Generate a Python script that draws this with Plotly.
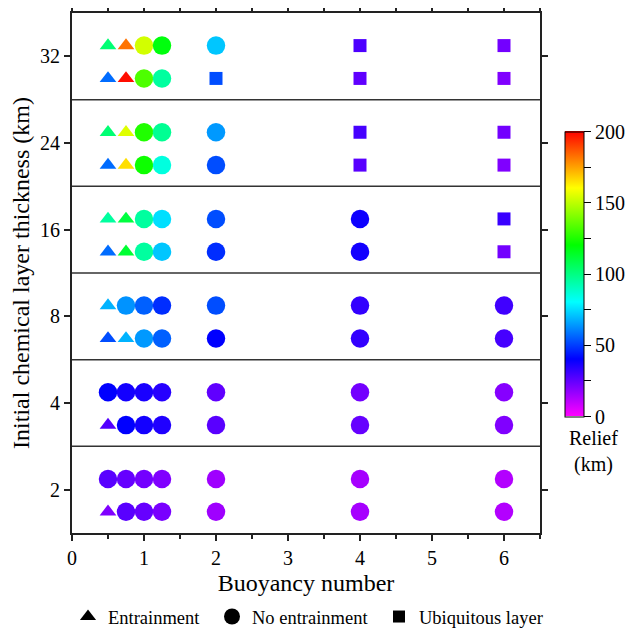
import plotly.graph_objects as go

# ---------------- data ----------------
buoyancy = [0.5, 0.75, 1.0, 1.25, 2, 4, 6]
thickness_labels = ["2", "4", "8", "16", "24", "32"]

# regime codes: T = entrainment, C = no entrainment, S = ubiquitous layer
regime_upper_2 = ["C", "C", "C", "C", "C", "C", "C"]
regime_lower_2 = ["T", "C", "C", "C", "C", "C", "C"]
regime_upper_4 = ["C", "C", "C", "C", "C", "C", "C"]
regime_lower_4 = ["T", "C", "C", "C", "C", "C", "C"]
regime_upper_8 = ["T", "C", "C", "C", "C", "C", "C"]
regime_lower_8 = ["T", "T", "C", "C", "C", "C", "C"]
regime_upper_16 = ["T", "T", "C", "C", "C", "C", "S"]
regime_lower_16 = ["T", "T", "C", "C", "C", "C", "S"]
regime_upper_24 = ["T", "T", "C", "C", "C", "S", "S"]
regime_lower_24 = ["T", "T", "C", "C", "C", "S", "S"]
regime_upper_32 = ["T", "T", "C", "C", "C", "S", "S"]
regime_lower_32 = ["T", "T", "C", "C", "S", "S", "S"]

# relief (km)
relief_upper_2 = [26, 24, 22, 20, 15, 14, 12]
relief_lower_2 = [20, 26, 24, 21, 15, 14, 12]
relief_upper_4 = [40, 37, 36, 34, 25, 22, 19]
relief_lower_4 = [27, 40, 37, 35, 26, 24, 20]
relief_upper_8 = [68, 63, 55, 47, 52, 32, 30]
relief_lower_8 = [52, 68, 64, 55, 40, 32, 29]
relief_upper_16 = [95, 110, 95, 75, 52, 38, 31]
relief_lower_16 = [57, 112, 95, 71, 47, 37, 22]
relief_upper_24 = [102, 155, 125, 97, 64, 29, 22]
relief_lower_24 = [57, 165, 122, 85, 52, 26, 20]
relief_upper_32 = [102, 182, 153, 118, 71, 28, 22]
relief_lower_32 = [57, 198, 132, 95, 52, 25, 20]

regime_names = {"T": "Entrainment", "C": "No entrainment", "S": "Ubiquitous layer"}
colorbar_ticks = [0, 25, 50, 75, 100, 125, 150, 175, 200]
colorbar_labels = ["0", "", "50", "", "100", "", "150", "", "200"]

# ---------------- assembly ----------------
rows = [
    (regime_upper_2, relief_upper_2, regime_lower_2, relief_lower_2),
    (regime_upper_4, relief_upper_4, regime_lower_4, relief_lower_4),
    (regime_upper_8, relief_upper_8, regime_lower_8, relief_lower_8),
    (regime_upper_16, relief_upper_16, regime_lower_16, relief_lower_16),
    (regime_upper_24, relief_upper_24, regime_lower_24, relief_lower_24),
    (regime_upper_32, relief_upper_32, regime_lower_32, relief_lower_32),
]
UPPER_OFF = 0.624
LOWER_OFF = 0.245

pts = {"T": ([], [], []), "C": ([], [], []), "S": ([], [], [])}
for g, (ru, vu, rl, vl) in enumerate(rows):
    for regs, vals, off in ((ru, vu, UPPER_OFF), (rl, vl, LOWER_OFF)):
        for xb, r, v in zip(buoyancy, regs, vals):
            pts[r][0].append(xb)
            pts[r][1].append(g + off)
            pts[r][2].append(v)

symbols = {"T": "triangle-up", "C": "circle", "S": "square"}
sizes = {"T": 14.5, "C": 18.5, "S": 13}

rainbow = [[0.0, "#ff00ff"], [0.2, "#0000ff"], [0.4, "#00ffff"],
           [0.6, "#00ff00"], [0.8, "#ffff00"], [1.0, "#ff0000"]]

FONT = "Liberation Serif, Times New Roman, serif"
BODY = 8  # default page body margin
W, H = 633 - BODY, 628 - BODY
# plot area in page pixels: x 72..540, y 13..533
ML, MT = 72 - BODY, 13 - BODY
MR, MB = 633 - 540, 628 - 533
PW, PH = W - ML - MR, H - MT - MB


def px(xp):
    return (xp - BODY - ML) / PW


def py(yp):
    return (MT + PH - (yp - BODY)) / PH


fig = go.Figure()
for r in ["T", "C", "S"]:
    xs, ys, cs = pts[r]
    fig.add_trace(go.Scatter(
        x=xs, y=ys, mode="markers", showlegend=False,
        marker=dict(symbol=symbols[r], size=sizes[r], color=cs,
                    coloraxis="coloraxis", line=dict(width=0)),
        hovertemplate="B=%{x}<br>Relief=%{marker.color} km<extra></extra>"))

legend_ids = {"T": "legend", "C": "legend2", "S": "legend3"}
legend_x = {"T": 93, "C": 237, "S": 404}
for r, lsize in (("T", 14), ("C", 17), ("S", 12)):
    fig.add_trace(go.Scatter(
        x=[None], y=[None], mode="markers", name=regime_names[r],
        legend=legend_ids[r],
        marker=dict(symbol=symbols[r], size=lsize, color="black")))

for g in range(1, len(thickness_labels)):
    fig.add_shape(type="line", xref="paper", yref="y", x0=0, x1=1, y0=g, y1=g,
                  line=dict(color="#333333", width=1.5), layer="below")

fig.add_annotation(text="Relief<br>(km)", xref="paper", yref="paper",
                   x=px(593), y=py(425), xanchor="center", yanchor="top",
                   showarrow=False, font=dict(size=20), align="center")


def legend_box(r):
    return dict(x=px(legend_x[r] - 25), xanchor="left", y=py(617),
                yanchor="middle", orientation="h", font=dict(size=18.5),
                bgcolor="rgba(0,0,0,0)")


fig.update_layout(
    width=W, height=H,
    margin=dict(l=ML, r=MR, t=MT, b=MB, autoexpand=False),
    paper_bgcolor="white", plot_bgcolor="white",
    font=dict(family=FONT, size=20, color="black"),
    xaxis=dict(range=[0, 6.5], tickvals=[0, 1, 2, 3, 4, 5, 6],
               ticks="outside", ticklen=6, tickwidth=1.5, tickcolor="#222",
               minor=dict(dtick=0.5, tick0=0, ticks="outside", ticklen=4,
                          tickwidth=1.5, tickcolor="#222", showgrid=False),
               showline=True, linewidth=2, linecolor="#222", mirror="ticks",
               showgrid=False, zeroline=False,
               title=dict(text="Buoyancy number", font=dict(size=24), standoff=6),
               tickfont=dict(size=20)),
    yaxis=dict(range=[0, 6], tickvals=[i + 0.5 for i in range(len(thickness_labels))],
               ticktext=thickness_labels,
               ticks="outside", ticklen=6, tickwidth=1.5, tickcolor="#222",
               showline=True, linewidth=2, linecolor="#222", mirror="ticks",
               showgrid=False, zeroline=False,
               title=dict(text="Initial chemical layer thickness (km)",
                          font=dict(size=24), standoff=8),
               tickfont=dict(size=20)),
    coloraxis=dict(cmin=0, cmax=200, colorscale=rainbow,
                   colorbar=dict(x=px(565), xanchor="left", xpad=0,
                                 y=py(274), yanchor="middle", ypad=0,
                                 thickness=19, len=285, lenmode="pixels",
                                 outlinewidth=1, outlinecolor="black",
                                 ticks="outside", ticklen=7, tickwidth=1,
                                 tickcolor="black",
                                 tickvals=colorbar_ticks, ticktext=colorbar_labels,
                                 tickfont=dict(size=20))),
    legend=legend_box("T"),
    legend2=legend_box("C"),
    legend3=legend_box("S"),
)

fig.write_html("out.html")
